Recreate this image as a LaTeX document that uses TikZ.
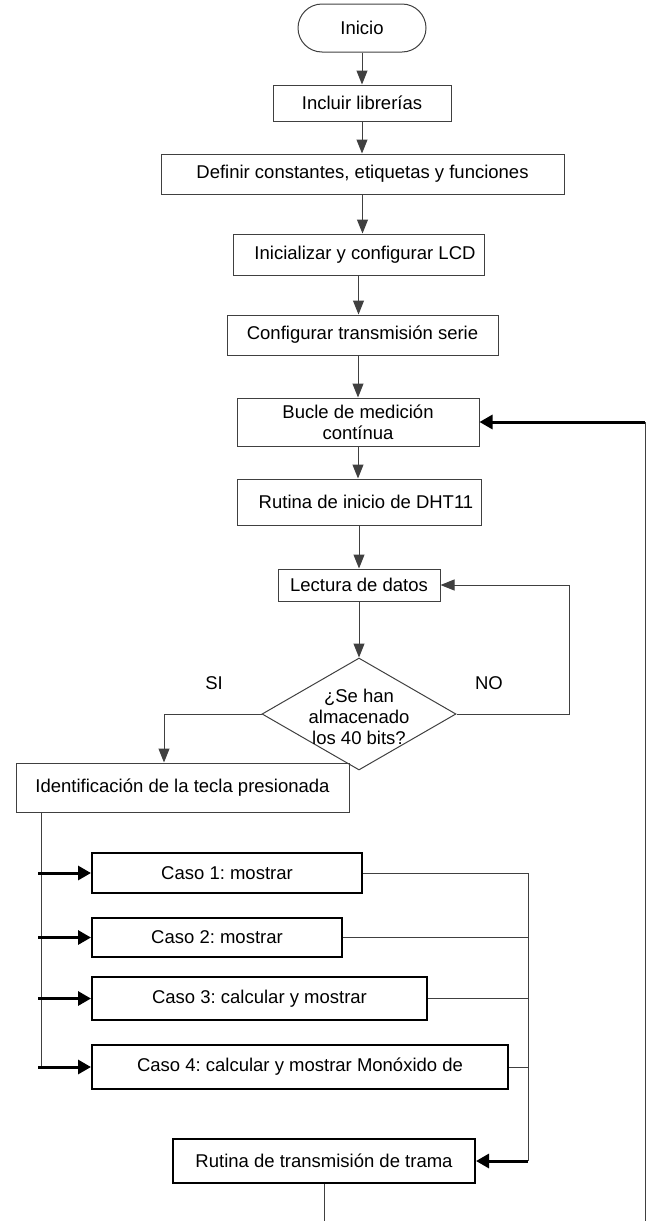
\documentclass[tikz,border=0pt]{standalone}
\usepackage{fontspec}
\setmainfont{Liberation Sans}
\frenchspacing
\usetikzlibrary{calc}
\usetikzlibrary{arrows.meta}
\usetikzlibrary{shapes.geometric}

\tikzset{%
  proc/.style={draw=black!75,line width=1pt,rectangle,inner sep=0pt,align=center},%
  caso/.style={draw=black,line width=2pt,rectangle,inner sep=0pt,align=center},%
  term/.style={draw=black!75,line width=1pt,rectangle,rounded corners=24pt,inner sep=0pt},%
  decision/.style={draw=black!75,line width=1pt,diamond,inner sep=0pt,minimum width=194pt,minimum height=112pt},%
  line/.style={draw=black!75,line width=1pt},%
  flow/.style={line,-{Triangle[length=14pt,width=11pt]}},%
  bigflow/.style={draw=black,line width=3pt,-{Triangle[length=13pt,width=14pt]}},%
}

\begin{document}
\begin{tikzpicture}[x=1pt,y=-1pt,font=\fontsize{18.5}{21}\selectfont]%
\useasboundingbox (0,0) rectangle (653,1221);%
% secuencia principal
\node[term,minimum width=128pt,minimum height=48pt] (inicio) at (362,28) {Inicio};%
\node[proc,minimum width=178pt,minimum height=36pt] (librerias) at (362,103) {Incluir librerías};%
\node[proc,minimum width=403pt,minimum height=40pt] (definir) at (362.5,174) {Definir constantes, etiquetas y funciones};%
\node[proc,minimum width=251pt,minimum height=41pt] (lcd) at (358.5,254.5) {\hspace*{13pt}Inicializar y configurar LCD};%
\node[proc,minimum width=271pt,minimum height=40pt] (serie) at (362.5,335) {Configurar transmisión serie};%
\node[proc,minimum width=242pt,minimum height=48pt] (bucle) at (358,422) {Bucle de medición\\contínua};%
\node[proc,minimum width=244pt,minimum height=46pt] (dht) at (359,502) {\hspace*{14pt}Rutina de inicio de DHT11};%
\node[proc,minimum width=162pt,minimum height=32pt] (lectura) at (359,585) {Lectura de datos};%
\node[decision] (ask) at (359,714) {};%
\node[align=center] (asktxt) at (359,717) {¿Se han\\almacenado\\los 40 bits?};%
\node (si) at (214,683) {SI};%
\node (no) at (489,683) {NO};%
\node[proc,minimum width=333pt,minimum height=49pt] (tecla) at (182.5,787.5) {Identificación de la tecla presionada};%
% casos
\node[caso,minimum width=270pt,minimum height=40pt] (caso1) at (227,873) {Caso 1: mostrar};%
\node[caso,minimum width=250pt,minimum height=39pt] (caso2) at (217,937.5) {Caso 2: mostrar};%
\node[caso,minimum width=335pt,minimum height=43pt] (caso3) at (259.5,998.5) {Caso 3: calcular y mostrar};%
\node[caso,minimum width=416pt,minimum height=44pt] (caso4) at (300,1067) {Caso 4: calcular y mostrar Monóxido de};%
\node[caso,minimum width=302pt,minimum height=44pt] (trama) at (324,1161) {Rutina de transmisión de trama};%
% puntos de paso
\coordinate (nofin) at (569,714);%
\coordinate (sifin) at (164,714);%
\coordinate (tronco) at (41,0);%
\coordinate (junta) at (528,0);%
\coordinate (retorno) at (645,1221);%
% conexiones
\draw[flow] (inicio.south) -- (inicio.south |- librerias.north);%
\draw[flow] (librerias.south) -- (librerias.south |- definir.north);%
\draw[flow] (definir.south) -- (definir.south |- lcd.north);%
\draw[flow] (lcd.south) -- (lcd.south |- serie.north);%
\draw[flow] (bucle.north |- serie.south) -- (bucle.north);%
\draw[flow] (bucle.south) -- (bucle.south |- dht.north);%
\draw[flow] (dht.south) -- (dht.south |- lectura.north);%
\draw[flow] (lectura.south) -- (ask.north);%
\draw[flow] (ask.east) -- (nofin) |- (lectura.east);%
\draw[flow] (ask.west) -- (sifin) -- (sifin |- tecla.north);%
\draw[line] (tronco |- tecla.south) -- (tronco |- caso4.west);%
\foreach \n in {caso1,caso2,caso3,caso4}{%
  \draw[bigflow] ($(tronco |- \n.west)+(-3,0)$) -- (\n.west);%
  \draw[line] (\n.east) -- (junta |- \n.east);%
}%
\draw[line] (junta |- caso1.east) -- (junta |- trama.east);%
\draw[bigflow] (junta |- trama.east) -- (trama.east);%
\draw[line] (trama.south) -- (trama.south |- retorno);%
\draw[line] (retorno) -- (retorno |- bucle.east);%
\draw[bigflow] (retorno |- bucle.east) -- (bucle.east);%
\end{tikzpicture}
\end{document}
